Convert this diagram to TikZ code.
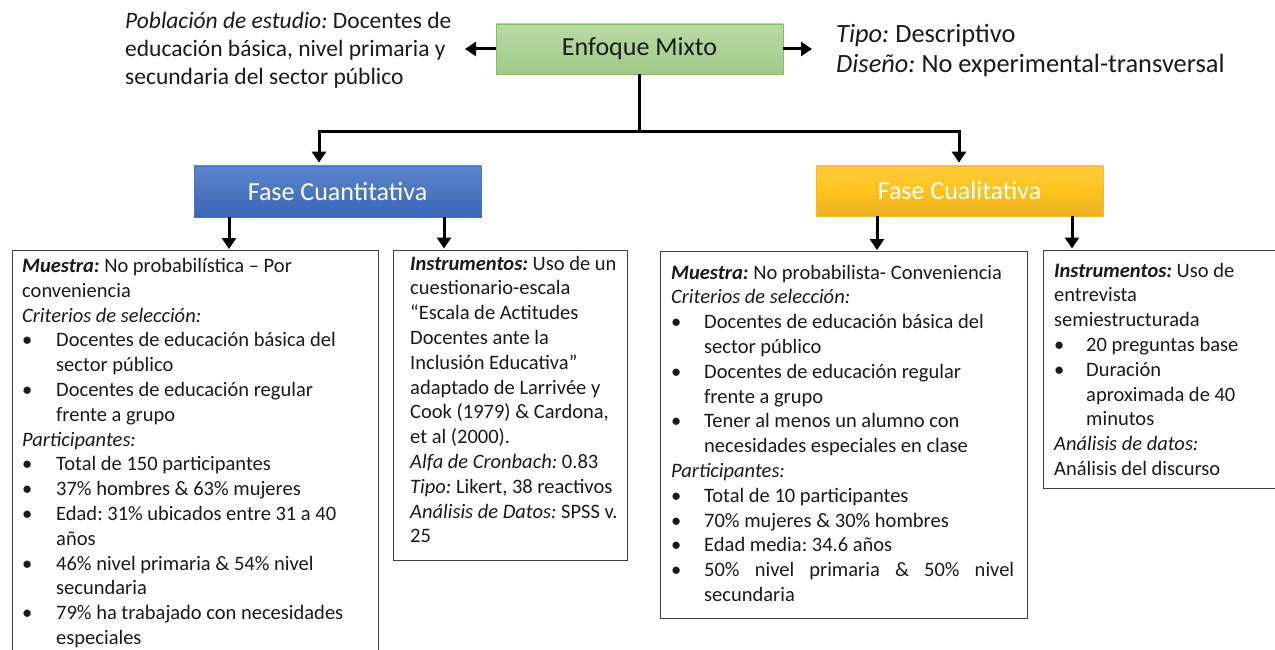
\documentclass[tikz,border=0pt]{standalone}
\usepackage{fontspec}
\setmainfont{Carlito}
\frenchspacing
\usetikzlibrary{arrows.meta,calc}
\definecolor{gtop}{HTML}{B8DAA4}
\definecolor{gbot}{HTML}{A0CB88}
\definecolor{gdraw}{HTML}{86BD66}
\definecolor{btop}{HTML}{5C85CC}
\definecolor{bbot}{HTML}{3A66B6}
\definecolor{bdraw}{HTML}{4A76C2}
\definecolor{ytop}{HTML}{FFCB3C}
\definecolor{ymid}{HTML}{FFC31A}
\definecolor{ybot}{HTML}{E8B124}
\definecolor{ydraw}{HTML}{F3BC20}
\definecolor{ink}{HTML}{1A1A1A}
\tikzset{
 arr/.style={line width=3pt, -{Triangle[length=11pt,width=14pt]}, shorten >=3pt},
 hdr/.style={minimum width=287pt, minimum height=50pt, inner sep=0pt, line width=0.8pt, font=\fontsize{26}{30}\selectfont},
 txtbox/.style={draw=black!75, line width=1.2pt, anchor=north west, inner sep=0pt},
 body/.style={anchor=north west, inner sep=0pt, align=left, text=ink, font=\fontsize{20.5}{24.8}\selectfont},
}
\newcommand{\bul}[1]{\makebox[#1][l]{\textbullet}}
\newcommand{\itx}[1]{{\itshape #1}}
\newcommand{\bix}[1]{{\bfseries\itshape #1}}
\begin{document}
\begin{tikzpicture}[x=1pt,y=-1pt]
\useasboundingbox (0,0) rectangle (1275,650);
\clip (0,0) rectangle (1275,650);

% header boxes
\node[hdr, draw=gdraw, top color=gtop, bottom color=gbot, text=ink] (enf) at (639.5,49) {Enfoque Mixto};
\node[hdr, minimum height=51pt, draw=bdraw, top color=btop, bottom color=bbot, text=white] (cuant) at (337.5,191.5) {Fase Cuantitativa};
\node[hdr, draw=ydraw, top color=ytop, bottom color=ybot, middle color=ymid, text=white] (cual) at (959.5,191) {Fase Cualitativa};

% side texts
\node[anchor=north west, inner sep=0pt, align=left, text=ink, font=\fontsize{23.5}{28.3}\selectfont] (pob) at (125,8.2)
 {\strut\itx{Población de estudio:} Docentes de\\ educación básica, nivel primaria y\\ secundaria del sector público};
\node[anchor=north west, inner sep=0pt, align=left, text=ink, font=\fontsize{26.4}{30}\selectfont] (tipo) at (836,21)
 {\strut\itx{Tipo:} Descriptivo\\ \itx{Diseño:} No experimental-transversal};

\coordinate (pobtip) at (465,49);
\coordinate (tipotip) at (812,49);
\draw[arr, shorten >=0pt] (enf.west) -- (pobtip);
\draw[arr, shorten >=0pt] (enf.east) -- (tipotip);

% tree
\coordinate (jl) at (319,132);
\coordinate (jr) at (959,132);
\draw[arr] (enf.south) |- (jl) -- (jl |- cuant.north);
\draw[arr] (enf.south) |- (jr) -- (jr |- cual.north);

% text boxes
\node[txtbox, minimum width=366pt, minimum height=430pt] (b1) at (12,250) {};
\node[txtbox, minimum width=234pt, minimum height=310pt] (b2) at (392.5,249.5) {};
\node[txtbox, minimum width=367pt, minimum height=367pt] (b3) at (659.5,251) {};
\node[txtbox, minimum width=260pt, minimum height=238pt] (b4) at (1043,249.5) {};

\coordinate (a1) at (229,0);
\coordinate (a2) at (444,0);
\coordinate (a3) at (877,0);
\coordinate (a4) at (1072,0);
\draw[arr, shorten >=1pt] (cuant.south -| a1) -- (b1.north -| a1);
\draw[arr, shorten >=1pt] (cuant.south -| a2) -- (b2.north -| a2);
\draw[arr, shorten >=1pt] (cual.south -| a3) -- (b3.north -| a3);
\draw[arr, shorten >=1pt] (cual.south -| a4) -- (b4.north -| a4);

% box texts
\node[body] (t1) at (22,255) {\strut\bix{Muestra:} No probabilística – Por\\
conveniencia\\
\itx{Criterios de selección:}\\
\bul{34pt}Docentes de educación básica del\\
\hspace*{34pt}sector público\\
\bul{34pt}Docentes de educación regular\\
\hspace*{34pt}frente a grupo\\
\itx{Participantes:}\\
\bul{34pt}Total de 150 participantes\\
\bul{34pt}37\% hombres \& 63\% mujeres\\
\bul{34pt}Edad: 31\% ubicados entre 31 a 40\\
\hspace*{34pt}años\\
\bul{34pt}46\% nivel primaria \& 54\% nivel\\
\hspace*{34pt}secundaria\\
\bul{34pt}79\% ha trabajado con necesidades\\
\hspace*{34pt}especiales};

\node[body] (t2) at (410,252.5) {\strut\bix{Instrumentos:} Uso de un\\
cuestionario-escala\\
“Escala de Actitudes\\
Docentes ante la\\
Inclusión Educativa”\\
adaptado de Larrivée y\\
Cook (1979) \& Cardona,\\
et al (2000).\\
\itx{Alfa de Cronbach:} 0.83\\
\itx{Tipo:} Likert, 38 reactivos\\
\itx{Análisis de Datos:} SPSS v.\\
25};

\node[body] (t3) at (671,261.5) {\strut\bix{Muestra:} No probabilista- Conveniencia\\
\itx{Criterios de selección:}\\
\bul{33pt}Docentes de educación básica del\\
\hspace*{33pt}sector público\\
\bul{33pt}Docentes de educación regular\\
\hspace*{33pt}frente a grupo\\
\bul{33pt}Tener al menos un alumno con\\
\hspace*{33pt}necesidades especiales en clase\\
\itx{Participantes:}\\
\bul{33pt}Total de 10 participantes\\
\bul{33pt}70\% mujeres \& 30\% hombres\\
\bul{33pt}Edad media: 34.6 años\\
\bul{33pt}\makebox[310pt][s]{50\% nivel primaria \& 50\% nivel}\\
\hspace*{33pt}secundaria};

\node[body] (t4) at (1054,259.5) {\strut\bix{Instrumentos:} Uso de\\
entrevista\\
semiestructurada\\
\bul{32pt}20 preguntas base\\
\bul{32pt}Duración\\
\hspace*{32pt}aproximada de 40\\
\hspace*{32pt}minutos\\
\itx{Análisis de datos:}\\
Análisis del discurso};
\end{tikzpicture}
\end{document}
